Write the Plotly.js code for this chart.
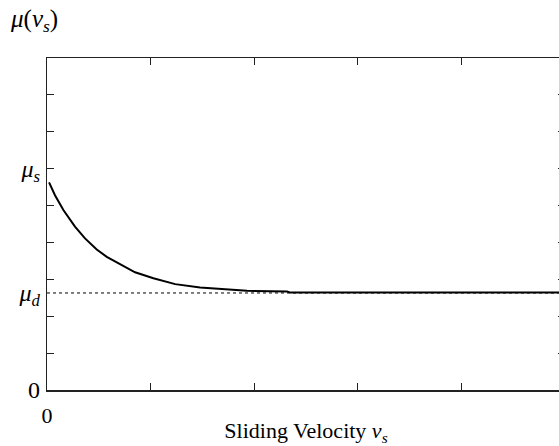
<!DOCTYPE html>
<html>
<head>
<meta charset="utf-8">
<script src="https://cdn.plot.ly/plotly-3.0.1.min.js"></script>
<style>
html,body{margin:0;padding:0;overflow:hidden;background:#fff;}
#chart{width:565px;height:446px;}
</style>
</head>
<body>
<div id="chart"></div>
<script>
// Friction coefficient vs sliding velocity
const velocity = [0.02, 0.077, 0.158, 0.27, 0.367, 0.48, 0.577, 0.705, 0.85, 1.027, 1.237, 1.478, 1.67, 1.93, 2.316, 2.35, 3.0, 4.0, 5.0];
const friction = [5.63, 5.28, 4.88, 4.43, 4.11, 3.81, 3.61, 3.41, 3.19, 3.03, 2.87, 2.78, 2.74, 2.69, 2.67, 2.64, 2.64, 2.64, 2.64];
const muD = 2.63;
const muS = 6.0;
const dottedX = [0, 5];
const dottedY = [muD, muD];
const xTickVals = [0, 1, 2, 3, 4, 5];
const xLabelVals = [0];
const xLabelText = ['0'];
const yTickVals = [0, 1, 2, 3, 4, 5, 6, 7, 8, 9];
const yLabelVals = [0, muD, muS];
const yLabelText = ['0', '<i>μ</i><sub><i>d</i></sub>', '<i>μ</i><sub><i>s</i></sub>'];

const serif = 'Liberation Serif, DejaVu Serif, serif';

const traces = [
  {x: dottedX, y: dottedY, mode: 'lines', line: {color: '#000', width: 1, dash: 'dot'}, hoverinfo: 'skip', showlegend: false},
  {x: velocity, y: friction, mode: 'lines', line: {color: '#000', width: 2}, showlegend: false},
  {x: [0], y: [0], xaxis: 'x2', yaxis: 'y2', mode: 'markers', marker: {opacity: 0}, showlegend: false, hoverinfo: 'skip'}
];

const layout = {
  width: 565, height: 446,
  margin: {l: 47, r: 0, t: 58, b: 56},
  paper_bgcolor: '#fff', plot_bgcolor: '#fff',
  font: {family: serif, color: '#000', size: 22},
  xaxis: {
    range: [0, 5], tickvals: xTickVals, showticklabels: false,
    ticks: 'inside', ticklen: 7, tickwidth: 1, tickcolor: '#222',
    showline: true, linecolor: '#222', linewidth: 1.5, mirror: 'ticks',
    showgrid: false, zeroline: false,
    title: {text: 'Sliding Velocity <i>v</i><sub><i>s</i></sub>', font: {family: serif, size: 22}, standoff: 38}
  },
  xaxis2: {
    overlaying: 'x', side: 'bottom', range: [0, 5],
    tickvals: xLabelVals, ticktext: xLabelText, ticks: '', ticklabelstandoff: 10,
    showline: false, showgrid: false, zeroline: false,
    tickfont: {family: serif, size: 22}
  },
  yaxis: {
    range: [0, 9], tickvals: yTickVals, showticklabels: false,
    ticks: 'inside', ticklen: 7, tickwidth: 1, tickcolor: '#222',
    showline: true, linecolor: '#222', linewidth: 1.5, mirror: 'ticks',
    showgrid: false, zeroline: false
  },
  yaxis2: {
    overlaying: 'y', side: 'left', range: [0, 9],
    tickvals: yLabelVals, ticktext: yLabelText, ticks: '', ticklabelstandoff: 6,
    showline: false, showgrid: false, zeroline: false,
    tickfont: {family: serif, size: 24}
  },
  annotations: [
    {text: '<i>μ</i>(<i>v</i><sub><i>s</i></sub>)', xref: 'paper', yref: 'paper', x: -0.075, y: 1.0, yshift: 38,
     xanchor: 'left', yanchor: 'middle', showarrow: false, font: {family: serif, size: 25, color: '#000'}}
  ]
};

Plotly.newPlot('chart', traces, layout, {displayModeBar: false, staticPlot: true});
</script>
</body>
</html>
